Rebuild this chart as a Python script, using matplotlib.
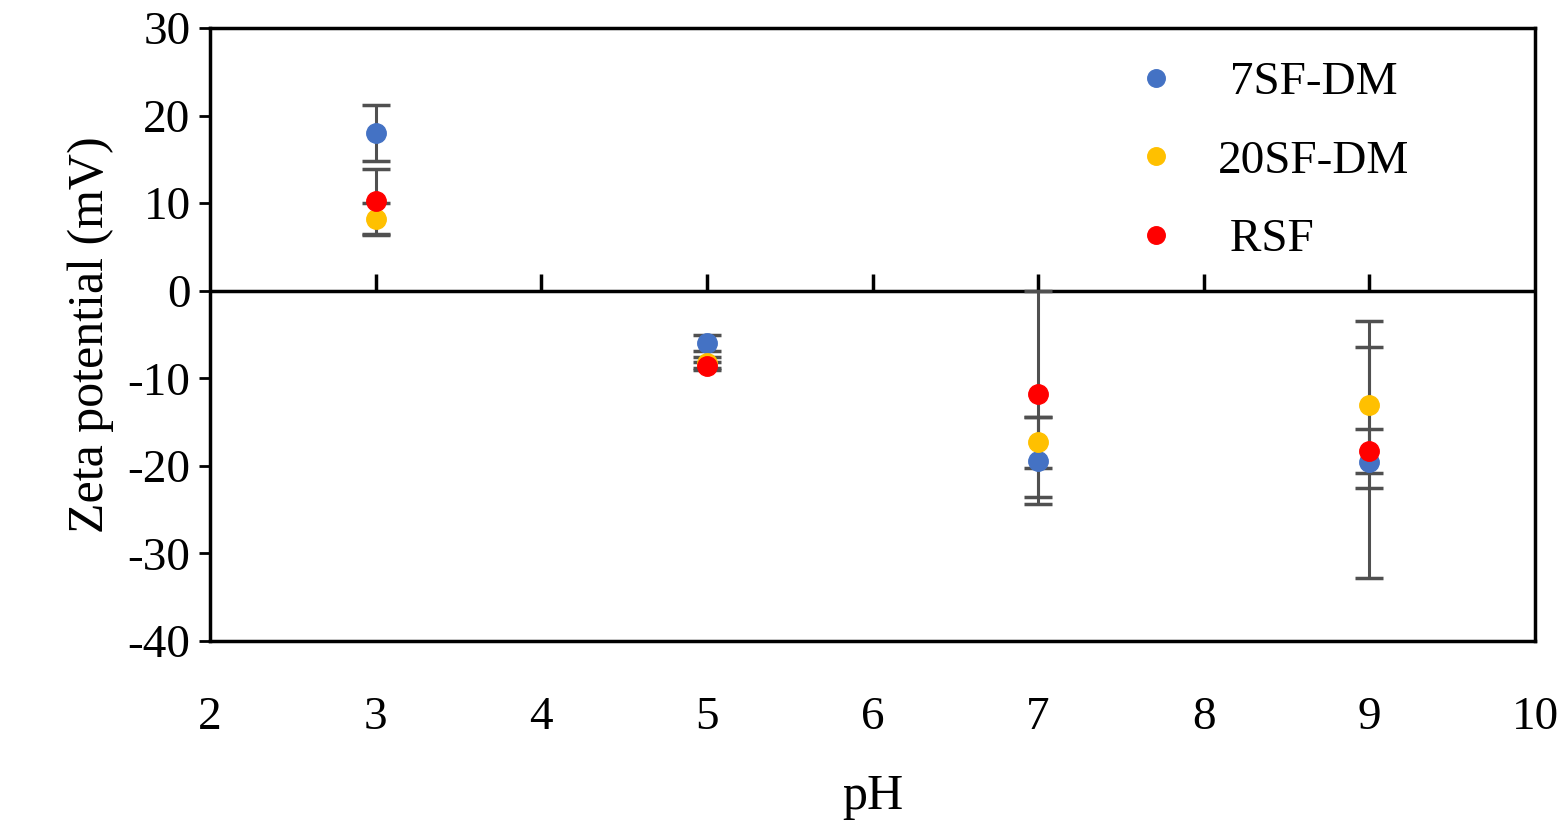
import matplotlib
matplotlib.use("Agg")
import matplotlib.pyplot as plt

ph = [3, 5, 7, 9]
names = ["7SF-DM", "20SF-DM", "RSF"]
colors = ["#4472C4", "#FFC000", "#FF0000"]
vals = {
    "7SF-DM": [18.0, -6.0, -19.4, -19.6],
    "20SF-DM": [8.2, -8.2, -17.3, -13.0],
    "RSF": [10.2, -8.6, -11.8, -18.3],
}
errs = {
    "7SF-DM": [3.2, 0.9, 5.0, 13.2],
    "20SF-DM": [1.8, 0.6, 2.9, 9.5],
    "RSF": [3.7, 0.5, 11.8, 2.5],
}

plt.rcParams['font.family'] = ['Liberation Serif', 'DejaVu Serif']
plt.rcParams['axes.unicode_minus'] = False
fig = plt.figure(figsize=(15.66, 8.22), dpi=100)
ax = fig.add_axes([210/1566, 1-641/822, 1325/1566, 613/822])

for n, c in zip(names, colors):
    ax.errorbar(ph, vals[n], yerr=errs[n], fmt='none', ecolor='#505050',
                elinewidth=2.2, capsize=10, capthick=2.5, zorder=2)
for n, c in zip(names, colors):
    ax.plot(ph, vals[n], 'o', color=c, markersize=14, linestyle='none',
            label=" " + n if n != "20SF-DM" else n, zorder=3)

ax.set_xlim(2, 10)
ax.set_ylim(-40, 30)
ax.set_xticks(range(2, 11))
ax.set_yticks(range(-40, 31, 10))
ax.tick_params(axis='x', length=0, labelsize=34, pad=40)
ax.tick_params(axis='y', length=8, width=2, labelsize=34, direction='out', pad=6)
ax.axhline(0, color='black', lw=2.5, zorder=1)
sec = ax.secondary_xaxis(40/70)
sec.set_xticks(range(3, 10))
sec.tick_params(length=12, width=2.5, direction='out', labelbottom=False, labeltop=False)
sec.spines['bottom'].set_visible(False)
sec.spines['top'].set_visible(False)
for s in ax.spines.values():
    s.set_linewidth(2.5)
ax.set_xlabel("pH", fontsize=36, labelpad=25)
ax.set_ylabel("Zeta potential (mV)", fontsize=36, labelpad=10)
ax.legend(loc='upper right', bbox_to_anchor=(0.93, 1.0), frameon=False, fontsize=34,
          handletextpad=0.3, labelspacing=0.75, borderaxespad=0.3, markerscale=0.9)
fig.savefig("out.png", dpi=100)
